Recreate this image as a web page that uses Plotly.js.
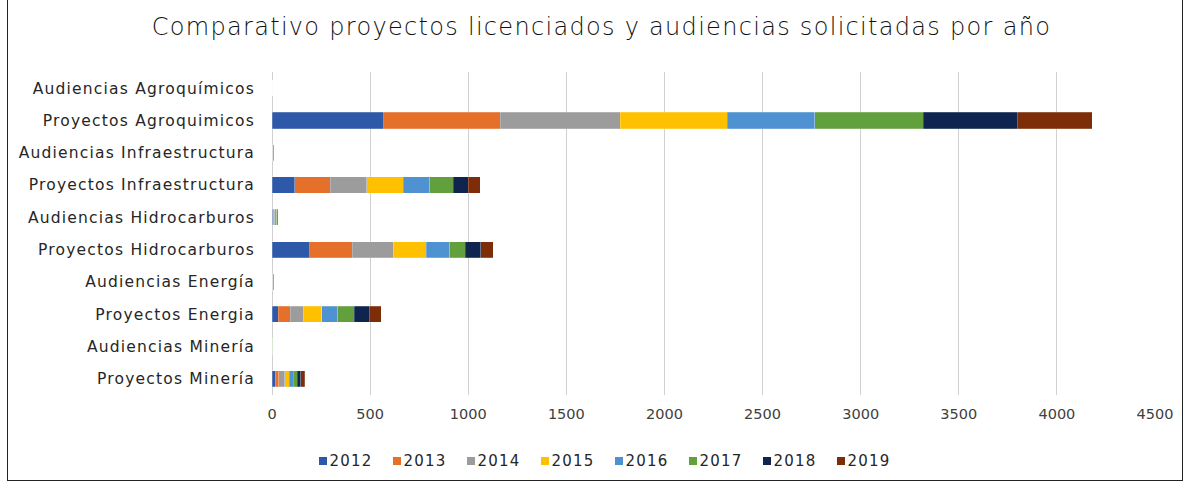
<!DOCTYPE html>
<html>
<head>
<meta charset="utf-8">
<script src="https://cdn.plot.ly/plotly-3.0.1.min.js"></script>
<style>
  html, body { margin: 0; padding: 0; background: #fff; }
  #frame { position: absolute; left: 7px; top: -2px; width: 1176px; height: 483px;
           border: 1px solid #222; box-sizing: border-box; pointer-events: none; }
  #chart { position: absolute; left: 0; top: 0; width: 1191px; height: 483px; }
  #chart .ytick text { letter-spacing: 1.2px; }
  #chart .gtitle { letter-spacing: 1.3px; }
  #chart .annotation-text { letter-spacing: 1.2px; }
</style>
</head>
<body>
<div id="chart"></div>
<div id="frame"></div>
<script>
const categories = [
  "Audiencias Agroquímicos",
  "Proyectos Agroquimicos",
  "Audiencias Infraestructura",
  "Proyectos Infraestructura",
  "Audiencias Hidrocarburos",
  "Proyectos Hidrocarburos",
  "Audiencias Energía",
  "Proyectos Energia",
  "Audiencias Minería",
  "Proyectos Minería"
];
const years = ["2012", "2013", "2014", "2015", "2016", "2017", "2018", "2019"];
const v2012 = [0, 570, 1, 115, 4, 193, 1, 32, 0.5, 17];
const v2013 = [0, 594, 1, 183, 4, 217, 1, 60, 0.5, 17];
const v2014 = [0, 611, 2, 185, 5, 207, 2, 66, 0.5, 31];
const v2015 = [0, 544, 1, 186, 4, 169, 1, 95, 0.5, 24];
const v2016 = [0, 447, 1, 136, 4, 119, 1, 83, 0.5, 20];
const v2017 = [0, 553, 1, 119, 4, 81, 1, 83, 0.5, 20];
const v2018 = [0, 479, 2, 76, 3, 77, 2, 76, 0.5, 17];
const v2019 = [0, 383, 1, 61, 2, 64, 1, 61, 0.5, 20];
const seriesValues = [v2012, v2013, v2014, v2015, v2016, v2017, v2018, v2019];
const colors = ["#2E58A8", "#E5702A", "#9C9C9C", "#FFC000", "#4E92D2", "#61A03C", "#0F2550", "#7D2D07"];
const xTicks = [0, 500, 1000, 1500, 2000, 2500, 3000, 3500, 4000, 4500];

const font = "'DejaVu Sans', 'Open Sans', sans-serif";

const W = 1191, H = 483;
const M = { l: 272, r: 36, t: 72, b: 88 };
const plotW = W - M.l - M.r, plotH = H - M.t - M.b;

const traces = years.map((y, i) => ({
  type: "bar",
  orientation: "h",
  name: y,
  y: categories,
  x: seriesValues[i],
  marker: { color: colors[i], line: { color: "rgba(255,255,255,0.35)", width: 0.6 } },
  hoverinfo: "x+y+name"
}));

// Legend laid out as in the reference: small squares with the year right after
const legendStartPx = 319, legendStepPx = 74, legendYPx = 461;
const legendY = (H - M.b - legendYPx) / plotH;
const shapes = [], annotations = [];
years.forEach((y, i) => {
  const px = legendStartPx + i * legendStepPx;
  const xp = (px - M.l) / plotW;
  shapes.push({
    type: "rect", xref: "paper", yref: "paper",
    xsizemode: "pixel", ysizemode: "pixel",
    xanchor: xp, yanchor: legendY,
    x0: 0, x1: 8, y0: -4, y1: 4,
    fillcolor: colors[i], line: { width: 0 }
  });
  annotations.push({
    xref: "paper", yref: "paper",
    x: (px + 11 - M.l) / plotW, y: legendY,
    xanchor: "left", yanchor: "middle",
    text: y, showarrow: false,
    font: { family: font, size: 15, color: "#262626" }
  });
});

const layout = {
  width: W,
  height: H,
  paper_bgcolor: "rgba(0,0,0,0)",
  plot_bgcolor: "rgba(0,0,0,0)",
  margin: { l: M.l, r: M.r, t: M.t, b: M.b, autoexpand: false },
  barmode: "stack",
  bargap: 0.5,
  title: {
    text: "Comparativo proyectos licenciados y audiencias solicitadas por año",
    x: 0.505, xref: "container", xanchor: "center",
    y: 0.945, yref: "container", yanchor: "middle",
    font: { family: font, size: 24, color: "#111", weight: 300 }
  },
  xaxis: {
    range: [0, 4500],
    tickvals: xTicks,
    ticktext: xTicks.map(String),
    showgrid: true,
    gridcolor: "#D0D0D0",
    gridwidth: 1,
    zeroline: true,
    zerolinecolor: "#D0D0D0",
    showline: false,
    ticks: "",
    ticklabelstandoff: 8,
    tickfont: { family: font, size: 14.5, color: "#404040" },
    fixedrange: true
  },
  yaxis: {
    type: "category",
    categoryorder: "array",
    categoryarray: categories,
    autorange: "reversed",
    showgrid: false,
    zeroline: false,
    showline: false,
    ticks: "",
    ticklabelstandoff: 16,
    tickfont: { family: font, size: 15.5, color: "#262626" },
    fixedrange: true
  },
  showlegend: false,
  shapes: shapes,
  annotations: annotations
};

Plotly.newPlot("chart", traces, layout, { displayModeBar: false });
</script>
</body>
</html>
